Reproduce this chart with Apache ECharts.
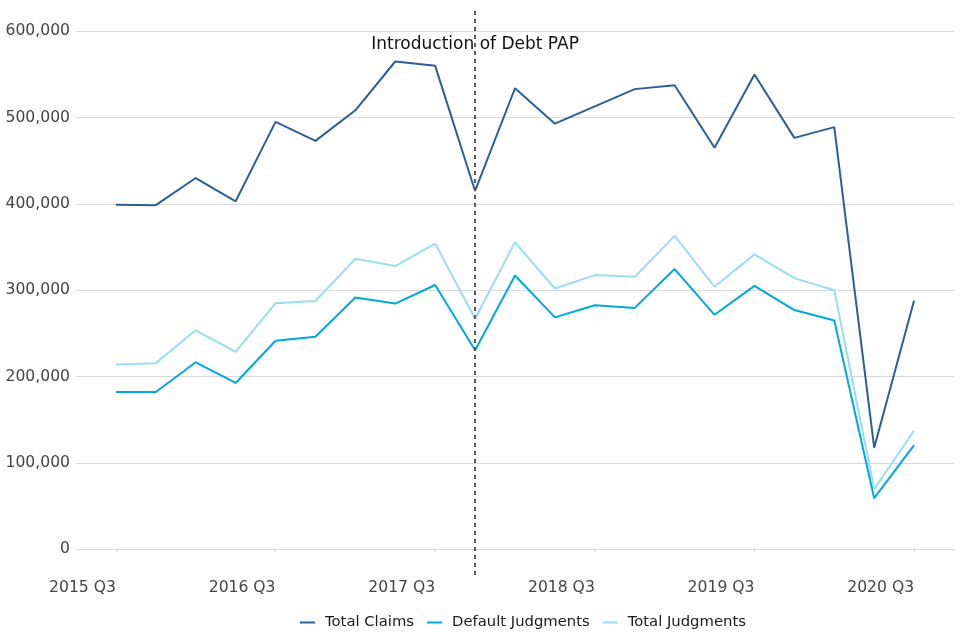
<!DOCTYPE html>
<html>
<head>
<meta charset="utf-8">
<script src="https://cdn.jsdelivr.net/npm/echarts@6/dist/echarts.min.js"></script>
<style>
html,body{margin:0;padding:0;background:#fff;}
#chart{width:960px;height:640px;}
</style>
</head>
<body>
<div id="chart"></div>
<script>
const quarters = ["2015 Q3","2015 Q4","2016 Q1","2016 Q2","2016 Q3","2016 Q4","2017 Q1","2017 Q2","2017 Q3","2017 Q4","2018 Q1","2018 Q2","2018 Q3","2018 Q4","2019 Q1","2019 Q2","2019 Q3","2019 Q4","2020 Q1","2020 Q2","2020 Q3"];
const totalClaims = [399000,398500,430000,403000,495000,473000,508500,565000,560000,415000,534000,493000,513000,533000,537500,465000,550000,476500,489000,117500,288000];
const defaultJudgments = [182000,182000,216500,192500,241500,246000,291500,284500,306000,230500,317000,268500,282500,279500,324500,271500,305000,277000,265000,59000,120500];
const totalJudgments = [214000,215500,253500,228500,285000,287500,336500,328000,354000,267000,355500,302000,317500,315500,363000,304000,341500,314000,300000,69500,137500];
const tickLabels = ["2015 Q3","2016 Q3","2017 Q3","2018 Q3","2019 Q3","2020 Q3"];
const yTicks = [0,100000,200000,300000,400000,500000,600000];
const annotationText = "Introduction of Debt PAP";
const annotationQuarter = "2017 Q4";

const tickIdx = tickLabels.map(l => quarters.indexOf(l));
const annIdx = quarters.indexOf(annotationQuarter);
const toXY = arr => arr.map((v, i) => [i, v]);

const FONT = "DejaVu Sans";
const chart = echarts.init(document.getElementById('chart'), null, {renderer: 'canvas'});
chart.setOption({
  animation: false,
  backgroundColor: '#ffffff',
  grid: {left: 76, right: 6, top: 8, bottom: 65},
  xAxis: {
    type: 'value',
    min: -1,
    max: 21,
    axisLine: {show: true, lineStyle: {color: '#d9d9d9', width: 1}},
    axisTick: {show: true, customValues: tickIdx, length: 3, lineStyle: {color: '#d9d9d9'}},
    axisLabel: {
      customValues: tickIdx,
      formatter: v => quarters[Math.round(v)] || '',
      align: 'right',
      margin: 5,
      color: '#444444',
      fontFamily: FONT,
      fontSize: 15.6
    },
    splitLine: {show: false}
  },
  yAxis: {
    type: 'value',
    min: -30000,
    max: 627000,
    axisLine: {show: false},
    axisTick: {show: false, customValues: yTicks},
    axisLabel: {
      customValues: yTicks,
      formatter: v => v.toLocaleString('en-US'),
      color: '#444444',
      fontFamily: FONT,
      fontSize: 15.6,
      margin: 6
    },
    splitLine: {show: true, lineStyle: {color: '#d9d9d9', width: 1}}
  },
  legend: {
    bottom: 5,
    left: 295,
    icon: 'rect',
    itemWidth: 15,
    itemHeight: 2,
    itemGap: 13,
    textStyle: {color: '#1a1a1a', fontFamily: FONT, fontSize: 14.8, padding: [0, 0, 0, 5]},
    data: ['Total Claims', 'Default Judgments', 'Total Judgments']
  },
  series: [
    {
      name: 'Total Claims',
      type: 'line',
      data: toXY(totalClaims),
      showSymbol: false,
      symbol: 'none',
      lineStyle: {color: '#2d5f96', width: 2},
      itemStyle: {color: '#2d5f96'},
      z: 3,
      markLine: {
        silent: true,
        symbol: ['none', 'none'],
        label: {show: false},
        lineStyle: {color: '#5a5a5a', type: [4, 4], width: 2},
        data: [{xAxis: annIdx}]
      }
    },
    {
      name: 'Default Judgments',
      type: 'line',
      data: toXY(defaultJudgments),
      showSymbol: false,
      symbol: 'none',
      lineStyle: {color: '#00a8e0', width: 2},
      itemStyle: {color: '#00a8e0'},
      z: 2
    },
    {
      name: 'Total Judgments',
      type: 'line',
      data: toXY(totalJudgments),
      showSymbol: false,
      symbol: 'none',
      lineStyle: {color: '#9adcf3', width: 2},
      itemStyle: {color: '#9adcf3'},
      z: 1
    }
  ],
  graphic: []
});

// Annotation placed at the data-coordinates of the marker line
const pos = chart.convertToPixel({gridIndex: 0}, [annIdx, 585000]);
chart.setOption({
  graphic: [{
    type: 'text',
    x: pos[0],
    y: pos[1],
    style: {
      text: annotationText,
      fill: '#111111',
      font: '17px "DejaVu Sans"',
      align: 'center',
      verticalAlign: 'middle'
    },
    z: 10
  }]
});
</script>
</body>
</html>
